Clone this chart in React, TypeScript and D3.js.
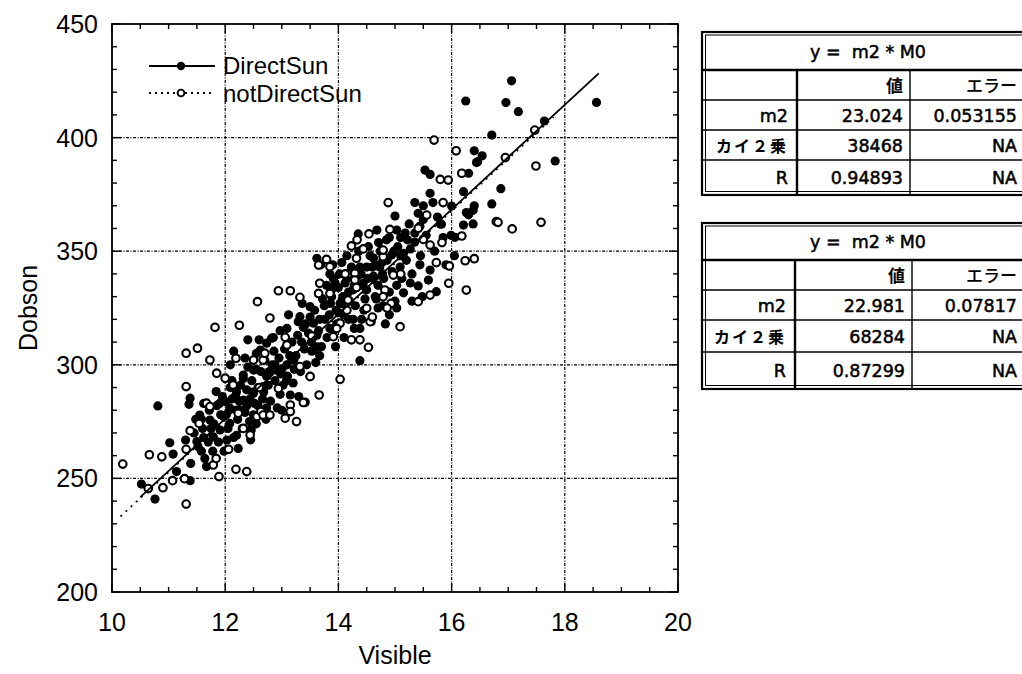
import React from 'react';
import * as d3 from 'd3';

const xTicks = [10, 12, 14, 16, 18, 20];
const yTicks = [200, 250, 300, 350, 400, 450];
const xGrid = [12, 14, 16, 18];
const yGrid = [250, 300, 350, 400];

const seriesNames = ['DirectSun', 'notDirectSun'];
const slopes = [23.024, 22.981];
const fitRangeDirect = [10.5, 18.6];
const fitRangeNot = [10.15, 17.8];

const directSun: [number, number][] = [
  [10.52,247.5],[10.76,240.9],[10.81,281.9],[11.02,265.7],[11.08,260.7],[11.14,253.0],[11.30,266.9],[11.36,282.6],[11.38,285.3],[11.39,256.6],[11.38,249.0],[11.84,288.2],[12.0,283.8],[11.52,264.0],[11.64,258.8],[11.67,255.2],[12.23,263.2],[12.44,271.3],[11.55,277.9],[11.73,275.7],[11.91,271.3],[12.03,266.9],[11.79,268.3],[11.50,266.2],[11.97,277.2],[12.08,274.2],[12.20,280.1],[12.32,284.5],[12.50,287.5],[12.67,290.4],[12.32,294],[12.55,298],[12.09,290],[12.2,269],[12.55,274],
  [13.62,346.9],[13.69,344],[13.50,325.6],[13.32,321.2],[13.29,319],[13.38,316.5],[13.56,318.3],[13.67,320],[13.85,316],[13.62,307.9],[13.53,306],[13.67,304],[13.50,321],[13.09,316.0],[12.97,315],[12.82,311.7],[12.73,309.5],[12.62,306.5],[12.4,311],[12.50,297.7],[12.32,295.5],[12.09,300],[12.2,288],[12.44,285],[12.73,295],[12.91,298],[13.09,300],[13.21,302],[12.97,287],[12.73,281],[12.50,278],[12.26,280],[13.15,286.7],[14.38,301.8],[14.03,327.1],[14.09,322],[14.26,320],[14.38,316],[14.26,333],[14.44,336],[14.62,338],[14.67,329],[14.79,326],[14.38,343],[14.56,348],[14.73,343],[13.91,338],[13.79,335],[14.0,334],
  [16.44,389.0],[15.53,385.7],[15.62,383.8],[16.30,384.3],[15.62,375.5],[15.35,371.4],[15.67,371.4],[16.21,376.2],[15.41,366.7],[15.0,365.5],[16.0,369.9],[16.26,367.0],[16.38,368],[16.71,370.8],[16.21,361.5],[16.38,362],[16.06,356.1],[15.8,362],[15.5,364],[15.44,361],[15.03,359.3],[14.68,359.3],[14.35,357.6],[14.71,353.8],[14.9,356],[15.1,356],[15.27,351],[15.15,349],[14.94,348.3],[14.62,347],[14.77,345],[14.5,343],[14.62,339],[15.09,343],[15.3,340],[15.62,341.7],[15.44,344],[15.2,346],[15.59,337.3],[15.41,334.7],[15.73,332.2],[15.15,331.7],[15.27,336],[15.03,335],[14.9,332],[14.7,335],[14.41,335],[14.18,332],[14.47,329],[14.3,326],[14.7,325],[14.9,322],[15.03,325],[14.41,320],[14.18,320],[14.0,323],[14.06,327],[13.88,330],[13.94,336],[14.06,345],[13.85,340],[13.88,333],
  [17.06,425.0],[16.25,416.1],[16.96,415.4],[17.18,411.4],[18.56,415.5],[17.64,407.3],[16.71,401.1],[16.40,394.2],[16.54,392.0],[16.46,389.4],[17.83,389.7],[16.87,377.5],[16.40,370],[16.30,366],[15.82,361.9],[15.99,357],[13.56,306.5],[12.46,271.3],
  [11.45,270],[11.48,276],[11.58,262],[11.6,272],[11.62,283],[11.7,266],[11.72,280],[11.78,262],[11.8,274],[11.85,282],[11.88,266],[11.92,278],[11.95,286],[11.98,262],
  [12.05,272],[12.08,281],[12.12,293],[12.15,268],[12.18,286],[12.22,276],[12.27,291],[12.3,272],[12.35,279],[12.38,289],[12.4,299],[12.43,275],[12.47,293],[12.52,283],[12.55,305],[12.58,290],[12.6,278],[12.63,297],[12.66,285],[12.7,302],[12.72,276],[12.76,291],[12.8,284],[12.83,300],[12.86,306],[12.88,293],[12.92,281],[12.95,303],[12.98,296],[12.6,311],[12.35,303],[12.15,306],[12.45,267],[12.85,312],
  [13.02,291],[13.05,307],[13.1,295],[13.12,322],[13.18,310],[13.2,292],[13.25,304],[13.28,313],[13.33,297],[13.36,327],[13.4,307],[13.44,300],[13.47,314],[13.5,295],[13.55,312],[13.58,324],[13.6,301],[13.65,315],[13.7,308],[13.72,329],[13.76,320],[13.8,312],[13.3,286],[13.0,280],
  [13.84,322],[13.9,344],[13.97,318],[14.02,340],[14.12,336],[14.15,348],[14.2,328],[14.23,343],[14.28,316],[14.33,339],[14.36,350],[14.45,324],[14.5,333],[14.53,352],[14.58,319],[14.6,343],[14.65,330],[14.74,350],[14.8,338],[14.83,318],[14.85,355],[14.95,341],[15.0,328],[15.05,352],[15.12,338],[15.18,358],[14.1,312],[13.95,308],
  [15.25,362],[15.35,354],[15.45,348],[15.5,370],[15.55,357],[15.7,350],[15.75,365],[15.85,356],[15.9,344],[16.05,348],[15.3,328],[15.48,330],
  [11.9,283],[12.02,278],[12.12,285],[12.25,284],[12.38,282],[12.48,288],[12.58,282],[12.68,288],[12.78,297],[12.88,300],[13.0,298],[13.08,293],[13.14,304],[13.22,298],[13.35,310],[13.42,318],[13.52,310],[13.62,313],[13.75,326],[13.86,327],[13.96,324],[14.08,330],[14.15,338],[14.28,335],[14.4,340],[14.52,338],[14.65,344],[14.78,340],[14.86,346],[14.98,350],[15.1,348],[15.22,355],[15.35,358],[11.62,268],[11.75,272],[11.58,276],
];

const notDirectSun: [number, number][] = [
  [11.31,290.4],[10.19,256.3],[10.66,260.4],[10.88,259.5],[11.38,271.0],[11.31,262.8],[10.90,245.9],[11.07,249.0],[11.28,249.9],[11.31,238.7],[11.89,250.8],[12.19,254.0],[12.38,253.0],[12.06,262.8],[11.67,283.1],[11.73,281.6],[11.85,296.3],[12.14,291.1],[11.79,255.9],[11.54,274.2],[12.44,269.1],[12.56,277.2],[12.63,279.5],[12.23,278.7],[12.32,272],[11.84,258.8],[10.64,245.5],
  [12.94,332.6],[13.15,332.6],[13.32,329.7],[12.57,327.8],[12.79,320.6],[12.25,317.4],[13.09,308.7],[13.65,331.4],[13.85,331.4],[13.67,335.9],[13.65,343.9],[13.79,346.4],[14.17,340],[14.29,340.3],[14.17,328.5],[14.50,324.9],[14.56,319.0],[14.03,318.3],[13.53,312.7],[14.23,311.0],[14.38,311.0],[14.53,307.7],[14.03,293.6],[13.66,286.7],[13.41,283.5],[13.15,282.3],[12.94,289.6],[13.50,294.8],[13.32,299.2],[12.67,302.1],[12.50,302.1],[12.19,302.9],[12.0,294.1],[12.67,277.9],[12.79,277.9],[13.15,279.4],[14.82,332.9],[14.79,347.6],[14.32,346.9],[13.91,312.4],[13.06,312.1],
  [14.88,371.4],[15.80,381.6],[15.94,381.3],[16.18,384.3],[15.85,371.4],[15.56,365.9],[15.41,360.1],[14.91,359.6],[14.54,357.6],[14.33,355],[14.23,352.3],[14.44,351],[15.50,355.2],[15.62,352.7],[15.83,353.8],[16.18,356.7],[16.24,345.8],[16.40,346.7],[15.73,345.0],[15.96,343.5],[15.95,335.9],[16.26,332.9],[16.79,363.0],[15.62,330.7],[15.41,327.8],[15.09,316.8],[15.1,340],[14.97,339.5],[14.79,350.5],[14.29,337.3],[14.32,334],[14.12,340],[13.85,343.2],[14.79,330],[14.93,327],[14.6,321],[13.97,316],[14.15,324],
  [15.69,398.9],[16.08,394.2],[16.95,391.2],[17.47,403.3],[17.49,387.5],[16.82,362.7],[17.07,359.8],[17.58,362.7],
  [11.82,316.5],[11.31,305.1],[11.51,307.3],[11.73,302.1],[12.70,305.1],[14.86,325],[13.06,276.5],[13.26,275.0],[13.38,283.4],[12.6,290],
];

const rowLabels = ['m2', 'カイ２乗', 'R'];
const colHeads = ['値', 'エラー'];
const tableTitle = 'y =  m2 * M0';
const table1Values = ['23.024', '38468', '0.94893'];
const table1Errors = ['0.053155', 'NA', 'NA'];
const table2Values = ['22.981', '68284', '0.87299'];
const table2Errors = ['0.07817', 'NA', 'NA'];

const W = 1022;
const H = 674;
const x = d3.scaleLinear().domain([10, 20]).range([112, 678]);
const y = d3.scaleLinear().domain([200, 450]).range([592, 24]);

const sans = '"Liberation Sans", Arial, Helvetica, sans-serif';
const tfont = '"DejaVu Sans", Verdana, sans-serif';
const jfont = '"Noto Sans CJK JP", sans-serif';

function StatTable({ rows, c1, c2, values, errors }: { rows: number[]; c1: number; c2: number; values: string[]; errors: string[] }) {
  const left = 702;
  const right = 1040;
  const top = rows[0];
  const bottom = rows[rows.length - 1];
  const mid = (a: number, b: number) => (a + b) / 2;
  return (
    <g>
      <rect x={left} y={top} width={right - left} height={bottom - top} fill="#fff" stroke="#000" strokeWidth={2.2} />
      <rect x={left + 3.5} y={top + 3} width={right - left} height={bottom - top - 6.5} fill="none" stroke="#000" strokeWidth={1} />
      <line x1={left} x2={right} y1={rows[1]} y2={rows[1]} stroke="#000" strokeWidth={2.6} />
      {rows.slice(2, rows.length - 1).map((r, i) => (
        <line key={i} x1={left} x2={right} y1={r} y2={r} stroke="#000" strokeWidth={1.3} />
      ))}
      <line x1={c1} x2={c1} y1={rows[1]} y2={bottom} stroke="#000" strokeWidth={2.4} />
      <line x1={c2} x2={c2} y1={rows[1]} y2={bottom} stroke="#000" strokeWidth={1.4} />
      <text x={868} y={mid(rows[0], rows[1]) + 6.5} textAnchor="middle" fontFamily={tfont} fontSize={17.5} stroke="#000" strokeWidth={0.5} style={{ whiteSpace: 'pre' }}>{tableTitle}</text>
      <text x={c2 - 7} y={mid(rows[1], rows[2]) + 7} textAnchor="end" fontFamily={jfont} fontWeight={700} fontSize={17}>{colHeads[0]}</text>
      <text x={1017} y={mid(rows[1], rows[2]) + 7} textAnchor="end" fontFamily={jfont} fontWeight={500} fontSize={17}>{colHeads[1]}</text>
      {rowLabels.map((lab, i) => {
        const cy = mid(rows[i + 2], rows[i + 3]) + 6.5;
        return (
          <g key={i}>
            <text x={c1 - 9} y={cy} textAnchor="end" fontFamily={i === 1 ? jfont : tfont} fontWeight={i === 1 ? 700 : 400} fontSize={i === 1 ? 16 : 17.5} stroke={i === 1 ? 'none' : '#000'} strokeWidth={0.5} letterSpacing={i === 1 ? 2 : 0}>{lab}</text>
            <text x={c2 - 7} y={cy} textAnchor="end" fontFamily={tfont} fontSize={17.5} stroke="#000" strokeWidth={0.5}>{values[i]}</text>
            <text x={1017} y={cy} textAnchor="end" fontFamily={tfont} fontSize={17.5} stroke="#000" strokeWidth={0.5}>{errors[i]}</text>
          </g>
        );
      })}
    </g>
  );
}

export default function App() {
  const [x0, x1] = x.range();
  const [y0, y1] = y.range();
  const xMinor = d3.range(10, 20.001, 0.5);
  const yMinor = d3.range(200, 450.001, 10);
  const line = d3.line<[number, number]>().x((d) => x(d[0])).y((d) => y(d[1]));
  const fitD: [number, number][] = fitRangeDirect.map((v) => [v, v * slopes[0]]);
  const fitN: [number, number][] = fitRangeNot.map((v) => [v, v * slopes[1]]);
  return (
    <svg width={W} height={H} style={{ position: 'absolute', left: 0, top: 0, background: '#fff' }}>
      <rect width={W} height={H} fill="#fff" />
      {xGrid.map((v) => (
        <line key={'gx' + v} x1={x(v)} x2={x(v)} y1={y1} y2={y0} stroke="#000" strokeWidth={1.2} strokeDasharray="3,1.5,1,1.5" />
      ))}
      {yGrid.map((v) => (
        <line key={'gy' + v} x1={x0} x2={x1} y1={y(v)} y2={y(v)} stroke="#000" strokeWidth={1.2} strokeDasharray="3,1.5,1,1.5" />
      ))}
      {xMinor.map((v, i) => {
        const len = Math.abs(v % 2) < 1e-6 ? 9 : 5;
        return (
          <g key={'tx' + i}>
            <line x1={x(v)} x2={x(v)} y1={y0} y2={y0 - len} stroke="#000" strokeWidth={1.4} />
            <line x1={x(v)} x2={x(v)} y1={y1} y2={y1 + len} stroke="#000" strokeWidth={1.4} />
          </g>
        );
      })}
      {yMinor.map((v, i) => {
        const len = Math.abs(v % 50) < 1e-6 ? 9 : 5;
        return (
          <g key={'ty' + i}>
            <line x1={x0} x2={x0 + len} y1={y(v)} y2={y(v)} stroke="#000" strokeWidth={1.4} />
            <line x1={x1} x2={x1 - len} y1={y(v)} y2={y(v)} stroke="#000" strokeWidth={1.4} />
          </g>
        );
      })}
      <rect x={x0} y={y1} width={x1 - x0} height={y0 - y1} fill="none" stroke="#000" strokeWidth={1.8} />
      {xTicks.map((v) => (
        <text key={'lx' + v} x={x(v)} y={631} textAnchor="middle" fontFamily={sans} fontSize={25}>{v}</text>
      ))}
      {yTicks.map((v) => (
        <text key={'ly' + v} x={98} y={y(v) + 9} textAnchor="end" fontFamily={sans} fontSize={25}>{v}</text>
      ))}
      <text x={(x0 + x1) / 2} y={664} textAnchor="middle" fontFamily={sans} fontSize={25}>Visible</text>
      <text transform={`translate(37,${(y0 + y1) / 2}) rotate(-90)`} textAnchor="middle" fontFamily={sans} fontSize={25}>Dobson</text>
      <path d={line(fitN) || ''} fill="none" stroke="#000" strokeWidth={1.8} strokeDasharray="2,5" />
      {directSun.map((d, i) => (
        <circle key={'d' + i} cx={x(d[0])} cy={y(d[1])} r={4.6} fill="#000" />
      ))}
      {notDirectSun.map((d, i) => (
        <circle key={'n' + i} cx={x(d[0])} cy={y(d[1])} r={3.8} fill="#fff" stroke="#000" strokeWidth={2.1} />
      ))}
      <path d={line(fitD) || ''} fill="none" stroke="#000" strokeWidth={1.8} />
      <line x1={149} x2={215} y1={66} y2={66} stroke="#000" strokeWidth={1.8} />
      <circle cx={181} cy={66} r={4.2} fill="#000" />
      <text x={223} y={74} fontFamily={sans} fontSize={24}>{seriesNames[0]}</text>
      <line x1={149} x2={215} y1={93} y2={93} stroke="#000" strokeWidth={1.8} strokeDasharray="2,4" />
      <circle cx={181} cy={93} r={3.4} fill="#fff" stroke="#000" strokeWidth={1.9} />
      <text x={223} y={102} fontFamily={sans} fontSize={24}>{seriesNames[1]}</text>
      <StatTable rows={[32, 70, 100, 130, 160, 195]} c1={797} c2={910} values={table1Values} errors={table1Errors} />
      <StatTable rows={[223, 260, 290, 320, 352, 389]} c1={795} c2={912} values={table2Values} errors={table2Errors} />
    </svg>
  );
}
